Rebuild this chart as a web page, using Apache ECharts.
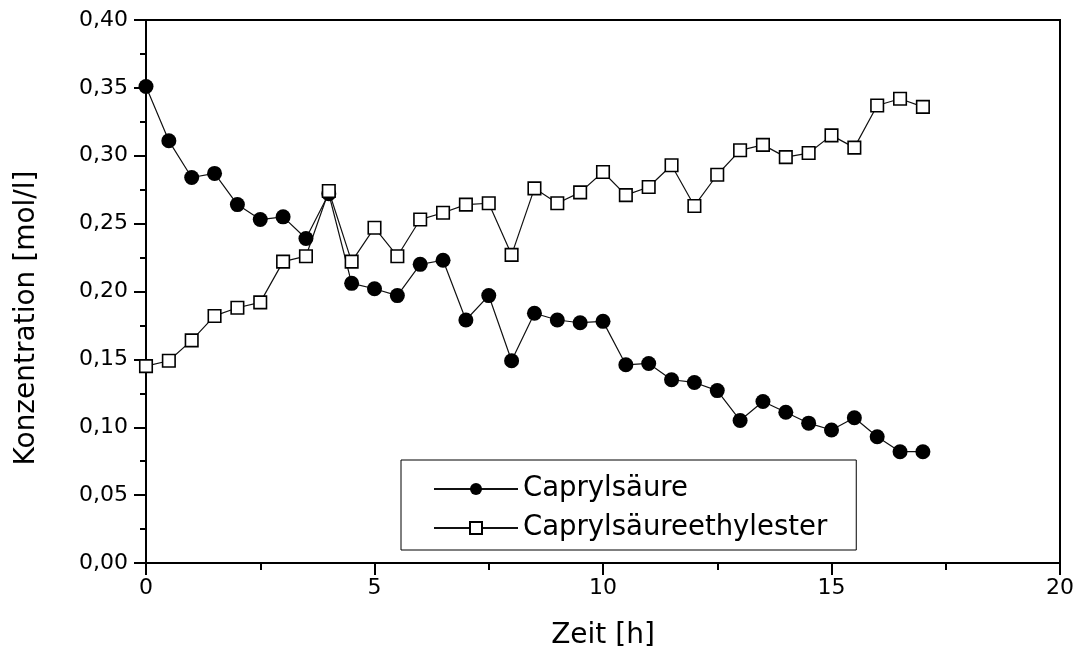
<!DOCTYPE html>
<html lang="de">
<head>
  <meta charset="UTF-8">
  <title>Caprylsäure / Caprylsäureethylester</title>
  <script src="https://cdn.jsdelivr.net/npm/echarts@6/dist/echarts.min.js"></script>
  <style>
    * { margin: 0; padding: 0; box-sizing: border-box; }
    body { background: #fff; }
    #chart { width: 1077px; height: 653px; }
  </style>
</head>
<body>
<div id="chart"></div>
<script>
// Zeit [h]
const zeit = [0, 0.5, 1, 1.5, 2, 2.5, 3, 3.5, 4, 4.5, 5, 5.5, 6, 6.5, 7, 7.5, 8, 8.5,
  9, 9.5, 10, 10.5, 11, 11.5, 12, 12.5, 13, 13.5, 14, 14.5, 15, 15.5, 16, 16.5, 17];
// Konzentration [mol/l]
const caprylsaeure = [0.351, 0.311, 0.284, 0.287, 0.264, 0.253, 0.255, 0.239, 0.272, 0.206,
  0.202, 0.197, 0.220, 0.223, 0.179, 0.197, 0.149, 0.184, 0.179, 0.177, 0.178, 0.146,
  0.147, 0.135, 0.133, 0.127, 0.105, 0.119, 0.111, 0.103, 0.098, 0.107, 0.093, 0.082, 0.082];
const ethylester = [0.145, 0.149, 0.164, 0.182, 0.188, 0.192, 0.222, 0.226, 0.274, 0.222,
  0.247, 0.226, 0.253, 0.258, 0.264, 0.265, 0.227, 0.276, 0.265, 0.273, 0.288, 0.271,
  0.277, 0.293, 0.263, 0.286, 0.304, 0.308, 0.299, 0.302, 0.315, 0.306, 0.337, 0.342, 0.336];

const FONT = '"DejaVu Sans", Arial, sans-serif';
const pairs = arr => zeit.map((t, i) => [t, arr[i]]);

const chart = echarts.init(document.getElementById('chart'));
chart.setOption({
  animation: false,
  grid: {
    left: 146, right: 17, top: 20, bottom: 90,
    show: true, borderColor: '#000', borderWidth: 2
  },
  legend: {
    orient: 'vertical',
    left: 401, top: 460,
    padding: [15, 29, 8, 32],
    itemGap: 11,
    itemWidth: 84, itemHeight: 15,
    borderColor: '#000', borderWidth: 1,
    textStyle: { fontFamily: FONT, fontSize: 27.5, color: '#000', lineHeight: 28 },
    data: ['Caprylsäure', 'Caprylsäureethylester']
  },
  xAxis: {
    type: 'value', min: 0, max: 20, interval: 5,
    axisLine: { lineStyle: { color: '#000', width: 2 } },
    axisTick: { show: true, length: 12, lineStyle: { color: '#000', width: 2 } },
    minorTick: { show: true, splitNumber: 2, length: 7, lineStyle: { color: '#000', width: 2 } },
    splitLine: { show: false },
    axisLabel: { margin: 14, color: '#000', fontFamily: FONT, fontSize: 22 }
  },
  yAxis: {
    type: 'value', min: 0, max: 0.4, interval: 0.05,
    axisLine: { show: true, lineStyle: { color: '#000', width: 2 } },
    axisTick: { show: true, length: 12, lineStyle: { color: '#000', width: 2 } },
    minorTick: { show: true, splitNumber: 2, length: 6, lineStyle: { color: '#000', width: 2 } },
    splitLine: { show: false },
    axisLabel: {
      margin: 18, color: '#000', fontFamily: FONT, fontSize: 22,
      formatter: v => v.toFixed(2).replace('.', ',')
    }
  },
  graphic: [
    {
      type: 'text', x: 27, y: 318, rotation: Math.PI / 2,
      style: { text: 'Konzentration [mol/l]', font: '28px ' + FONT, fill: '#000',
        textAlign: 'center', textVerticalAlign: 'middle' }
    },
    {
      type: 'text', x: 603, y: 636,
      style: { text: 'Zeit [h]', font: '28px ' + FONT, fill: '#000',
        textAlign: 'center', textVerticalAlign: 'middle' }
    }
  ],
  series: [
    {
      name: 'Caprylsäure', type: 'line',
      data: pairs(caprylsaeure),
      symbol: 'circle', symbolSize: 15,
      lineStyle: { color: '#111', width: 1.2 },
      itemStyle: { color: '#000' }
    },
    {
      name: 'Caprylsäureethylester', type: 'line',
      data: pairs(ethylester),
      symbol: 'rect', symbolSize: 12.5,
      lineStyle: { color: '#111', width: 1.2 },
      itemStyle: { color: '#fff', borderColor: '#000', borderWidth: 1.6 }
    }
  ]
});
</script>
</body>
</html>
